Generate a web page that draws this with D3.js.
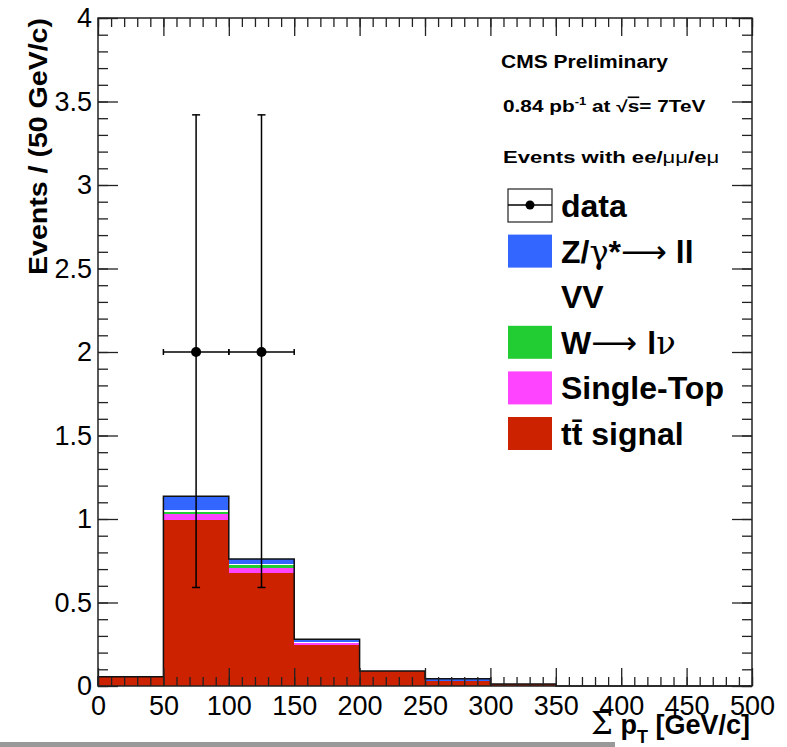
<!DOCTYPE html>
<html>
<head>
<meta charset="utf-8">
<script src="https://cdn.jsdelivr.net/npm/d3@7"></script>
<style>
body { margin: 0; background: #fff; }
text { font-family: "Liberation Sans", Arial, Helvetica, sans-serif; }
</style>
</head>
<body>
<script>
// bin low edges, 50 GeV/c wide
var binLow = [0, 50, 100, 150, 200, 250, 300, 350, 400, 450];
var binWidth = 50;

// stacked MC, bottom to top
var ttbar     = [0.055, 0.995, 0.675, 0.245, 0.090, 0.030, 0.012, 0, 0, 0];
var singleTop = [0,     0.035, 0.034, 0.012, 0,     0,     0,     0, 0, 0];
var wjets     = [0,     0.014, 0.013, 0.003, 0,     0,     0,     0, 0, 0];
var diboson   = [0,     0.012, 0.010, 0.005, 0,     0,     0,     0, 0, 0];
var zjets     = [0,     0.080, 0.028, 0.015, 0,     0.013, 0,     0, 0, 0];

// data points
var dataX    = [75, 125];
var dataY    = [2, 2];
var dataLow  = [0.59, 0.59];
var dataHigh = [3.42, 3.42];

var xMajor = d3.range(0, 501, 50);
var xMinor = d3.range(0, 501, 10);
var yMajor = [0, 0.5, 1, 1.5, 2, 2.5, 3, 3.5, 4];
var yMinor = d3.range(0, 41, 1).map(function(d){ return d / 10; });

var w = 787;
var h = 747;
// "top" is a reserved window property, so use frame* names
var frameL = 98, frameR = 752, frameT = 18, frameB = 686;

var xScale = d3.scaleLinear().domain([0, 500]).range([frameL, frameR]);
var yScale = d3.scaleLinear().domain([0, 4]).range([frameB, frameT]);

var svg = d3.select("body")
			.append("svg")
			.attr("width", w)
			.attr("height", h);

var layers = [
	{name: "tt", values: ttbar, color: "#cc2200"},
	{name: "st", values: singleTop, color: "#ff44ff"},
	{name: "w", values: wjets, color: "#22cc33"},
	{name: "vv", values: diboson, color: "#ffffff"},
	{name: "z", values: zjets, color: "#3366ff"}
];

// cumulative sums for the stack
var base = binLow.map(function(){ return 0; });
layers.forEach(function(l){
	l.y0 = base.slice();
	l.y1 = base.map(function(b, i){ return b + l.values[i]; });
	base = l.y1.slice();
});
var total = base;

var hist = svg.append("g").attr("shape-rendering", "crispEdges");
layers.forEach(function(l){
	hist.selectAll(null)
		.data(binLow)
		.enter()
		.append("rect")
		.attr("x", function(d){ return xScale(d); })
		.attr("width", function(d){ return xScale(d + binWidth) - xScale(d) + 0.5; })
		.attr("y", function(d, i){ return yScale(l.y1[i]); })
		.attr("height", function(d, i){ return yScale(l.y0[i]) - yScale(l.y1[i]); })
		.attr("fill", l.color);
});

// outline of the stack
var steps = [];
binLow.forEach(function(d, i){
	steps.push([d, total[i]]);
	steps.push([d + binWidth, total[i]]);
});
var outline = d3.line()
	.x(function(d){ return xScale(d[0]); })
	.y(function(d){ return yScale(d[1]); });
svg.append("path")
	.attr("d", outline([[0, 0]].concat(steps).concat([[500, 0]])))
	.attr("fill", "none")
	.attr("stroke", "#111")
	.attr("stroke-width", 1.5);

// axes with inward ticks
var axisColor = "#222";
function styleAxis(g){
	g.select(".domain").remove();
	g.selectAll("line").attr("stroke", axisColor).attr("stroke-width", 1.3);
	g.selectAll("text").attr("font-size", "27px").attr("fill", "#000").style("font-family", "Liberation Sans, Arial, sans-serif");
}

svg.append("g")
	.attr("transform", "translate(0," + frameB + ")")
	.call(d3.axisBottom(xScale).tickValues(xMinor).tickSize(-9).tickFormat(""))
	.call(styleAxis);
svg.append("g")
	.attr("transform", "translate(0," + frameB + ")")
	.call(d3.axisBottom(xScale).tickValues(xMajor).tickSize(-18).tickPadding(10).tickFormat(d3.format("d")))
	.call(styleAxis);
svg.append("g")
	.attr("transform", "translate(0," + frameT + ")")
	.call(d3.axisTop(xScale).tickValues(xMinor).tickSize(-9).tickFormat(""))
	.call(styleAxis);
svg.append("g")
	.attr("transform", "translate(0," + frameT + ")")
	.call(d3.axisTop(xScale).tickValues(xMajor).tickSize(-18).tickFormat(""))
	.call(styleAxis);

svg.append("g")
	.attr("transform", "translate(" + frameL + ",0)")
	.call(d3.axisLeft(yScale).tickValues(yMinor).tickSize(-10).tickFormat(""))
	.call(styleAxis);
svg.append("g")
	.attr("transform", "translate(" + frameL + ",0)")
	.call(d3.axisLeft(yScale).tickValues(yMajor).tickSize(-20).tickPadding(6).tickFormat(d3.format("")))
	.call(styleAxis);
svg.append("g")
	.attr("transform", "translate(" + frameR + ",0)")
	.call(d3.axisRight(yScale).tickValues(yMinor).tickSize(-10).tickFormat(""))
	.call(styleAxis);
svg.append("g")
	.attr("transform", "translate(" + frameR + ",0)")
	.call(d3.axisRight(yScale).tickValues(yMajor).tickSize(-20).tickFormat(""))
	.call(styleAxis);

svg.append("rect")
	.attr("x", frameL)
	.attr("y", frameT)
	.attr("width", frameR - frameL)
	.attr("height", frameB - frameT)
	.attr("fill", "none")
	.attr("stroke", axisColor)
	.attr("stroke-width", 1.5);

// data with error bars
var pts = svg.append("g").attr("stroke", "#000").attr("stroke-width", 1.5);
dataX.forEach(function(d, i){
	var cx = xScale(d), cy = yScale(dataY[i]);
	var x0 = xScale(d - binWidth / 2), x1 = xScale(d + binWidth / 2);
	var yl = yScale(dataLow[i]), yh = yScale(dataHigh[i]);
	pts.append("line").attr("x1", cx).attr("x2", cx).attr("y1", yl).attr("y2", yh);
	pts.append("line").attr("x1", cx - 4).attr("x2", cx + 4).attr("y1", yl).attr("y2", yl);
	pts.append("line").attr("x1", cx - 4).attr("x2", cx + 4).attr("y1", yh).attr("y2", yh);
	pts.append("line").attr("x1", x0).attr("x2", x1).attr("y1", cy).attr("y2", cy);
	pts.append("line").attr("x1", x0).attr("x2", x0).attr("y1", cy - 3).attr("y2", cy + 3);
	pts.append("line").attr("x1", x1).attr("x2", x1).attr("y1", cy - 3).attr("y2", cy + 3);
	pts.append("circle").attr("cx", cx).attr("cy", cy).attr("r", 5).attr("fill", "#000").attr("stroke", "none");
});

// axis titles
svg.append("text")
	.attr("transform", "translate(47,18) rotate(-90)")
	.attr("text-anchor", "end")
	.attr("font-size", "25px")
	.attr("font-weight", "bold")
	.attr("textLength", 257)
	.attr("lengthAdjust", "spacingAndGlyphs")
	.text("Events / (50 GeV/c)");

var xt = svg.append("text")
	.attr("x", 750)
	.attr("y", 734)
	.attr("text-anchor", "end")
	.attr("font-size", "27px")
	.attr("font-weight", "bold");
xt.append("tspan").attr("font-weight", "normal").attr("font-size", "31px").attr("font-family", "DejaVu Serif, serif").text("Σ");
xt.append("tspan").text(" p");
xt.append("tspan").attr("font-size", "18px").attr("dy", 9).text("T");
xt.append("tspan").attr("dy", -9).text(" [GeV/c]");

// grey strip at the bottom
svg.append("rect")
	.attr("x", 0)
	.attr("y", 742)
	.attr("width", 615)
	.attr("height", 5)
	.attr("fill", "#999");

// header texts
svg.append("text")
	.attr("x", 501).attr("y", 68)
	.attr("font-size", "18px").attr("font-weight", "bold")
	.attr("textLength", 167).attr("lengthAdjust", "spacingAndGlyphs")
	.text("CMS Preliminary");

var lumi = svg.append("text")
	.attr("transform", "translate(503,112) scale(1.3,1)")
	.attr("font-size", "16px").attr("font-weight", "bold");
lumi.append("tspan").text("0.84 pb");
lumi.append("tspan").attr("font-size", "10px").attr("dy", -7).text("-1");
lumi.append("tspan").attr("dy", 7).text(" at ");
lumi.append("tspan").text("√");
lumi.append("tspan").attr("text-decoration", "overline").text("s");
lumi.append("tspan").text("= 7TeV");

var ev = svg.append("text")
	.attr("transform", "translate(503,163) scale(1.3,1)")
	.attr("font-size", "17px").attr("font-weight", "bold");
ev.append("tspan").text("Events with ee/");
ev.append("tspan").attr("font-weight", "normal").text("μμ");
ev.append("tspan").text("/e");
ev.append("tspan").attr("font-weight", "normal").text("μ");

// legend
var legendRows = [
	{label: "data", type: "data"},
	{label: "Z/γ*→ ll", color: "#3366ff"},
	{label: "VV", color: "#ffffff"},
	{label: "W→ lν", color: "#22cc33"},
	{label: "Single-Top", color: "#ff44ff"},
	{label: "tt̄ signal", color: "#cc2200"}
];
var rowY = d3.scaleLinear().domain([0, 5]).range([205, 433]);

var legend = svg.append("g");
legendRows.forEach(function(r, i){
	var cy = rowY(i);
	if (r.type === "data") {
		legend.append("rect").attr("x", 508).attr("y", cy - 16).attr("width", 44).attr("height", 33)
			.attr("fill", "#fff").attr("stroke", "#222").attr("stroke-width", 1.2);
		legend.append("line").attr("x1", 508).attr("x2", 552).attr("y1", cy).attr("y2", cy)
			.attr("stroke", "#000").attr("stroke-width", 1.5);
		legend.append("circle").attr("cx", 530).attr("cy", cy).attr("r", 4.5).attr("fill", "#000");
	} else {
		legend.append("rect").attr("x", 508).attr("y", cy - 16).attr("width", 44).attr("height", 33)
			.attr("fill", r.color);
	}
	var t = legend.append("text")
		.attr("x", 561).attr("y", cy + 12)
		.attr("font-size", "32px").attr("font-weight", "bold");
	if (r.label === "Z/γ*→ ll") {
		t.append("tspan").text("Z/");
		t.append("tspan").attr("font-weight", "normal").attr("font-family", "DejaVu Serif, serif").text("γ");
		t.append("tspan").text("*");
		t.append("tspan").attr("font-weight", "normal").attr("font-family", "DejaVu Sans, sans-serif").text("⟶");
		t.append("tspan").text(" ll");
	} else if (r.label === "W→ lν") {
		t.append("tspan").text("W");
		t.append("tspan").attr("font-weight", "normal").attr("font-family", "DejaVu Sans, sans-serif").text("⟶ ");
		t.append("tspan").text("l");
		t.append("tspan").attr("font-weight", "normal").attr("font-family", "DejaVu Serif, serif").text("ν");
	} else {
		t.text(r.label);
	}
});
</script>
</body>
</html>
